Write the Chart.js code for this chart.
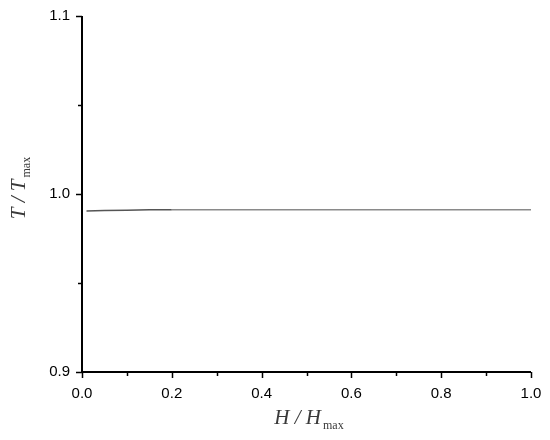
<!DOCTYPE html>
<html>
<head>
<meta charset="utf-8">
<script src="https://cdn.jsdelivr.net/npm/chart.js@4"></script>
<style>
  html,body{margin:0;padding:0;background:#fff;}
  #wrap{width:550px;height:440px;}
</style>
</head>
<body>
<div id="wrap"><canvas id="c" width="550" height="440"></canvas></div>
<script>
// data
const hRatio = [0.01, 0.05, 0.10, 0.15, 0.20, 0.30, 0.40, 0.50, 0.60, 0.70, 0.80, 0.90, 1.00];
const tRatio = [0.9905, 0.9907, 0.9909, 0.9911, 0.9912, 0.9912, 0.9912, 0.9912, 0.9912, 0.9912, 0.9912, 0.9912, 0.9912];
const xTicks = [0.0, 0.2, 0.4, 0.6, 0.8, 1.0];
const yTicks = [0.9, 1.0, 1.1];

const pts = hRatio.map((h,i)=>({x:h, y:tRatio[i]}));
const tickFont = {family:'"Liberation Sans", Arial, sans-serif', size:15};

function isMajor(v, list){ return list.some(t=>Math.abs(t-v)<1e-6); }
function noPad(s){ s.paddingTop = s.paddingBottom = s.paddingLeft = s.paddingRight = 0; }

// outward ticks, long for labelled, short for minor
const tickMarks = {
  id:'tickMarks',
  afterDraw(chart){
    const ctx = chart.ctx, xs = chart.scales.x, ys = chart.scales.y, a = chart.chartArea;
    ctx.save();
    ctx.strokeStyle = '#000'; ctx.lineWidth = 1.5;
    for(let v=0; v<=1.0001; v+=0.1){
      const px = Math.round(xs.getPixelForValue(v))+0.5;
      const len = isMajor(v, xTicks) ? 6 : 4;
      ctx.beginPath(); ctx.moveTo(px, a.bottom); ctx.lineTo(px, a.bottom+len); ctx.stroke();
    }
    for(let v=0.9; v<=1.1001; v+=0.05){
      const py = Math.round(ys.getPixelForValue(v))+0.5;
      const len = isMajor(v, yTicks) ? 6 : 4;
      ctx.beginPath(); ctx.moveTo(a.left, py); ctx.lineTo(a.left-len, py); ctx.stroke();
    }
    // axis lines
    ctx.lineWidth = 2;
    ctx.beginPath(); ctx.moveTo(a.left, a.top); ctx.lineTo(a.left, a.bottom); ctx.lineTo(a.right, a.bottom); ctx.stroke();
    ctx.restore();
  }
};

// axis titles with subscript "max"
function subTitle(ctx, main, sub, cx, cy){
  const mainFont = 'italic 21px "Liberation Serif", "Times New Roman", serif';
  const subFont = '12px "Liberation Serif", "Times New Roman", serif';
  ctx.font = mainFont; const w1 = ctx.measureText(main).width;
  ctx.font = subFont; const w2 = ctx.measureText(sub).width;
  let x = cx - (w1+w2)/2;
  ctx.textBaseline = 'alphabetic'; ctx.textAlign = 'left';
  ctx.fillStyle = '#3a3a3a';
  ctx.font = mainFont; ctx.fillText(main, x, cy);
  ctx.font = subFont; ctx.fillText(sub, x+w1+2, cy+5);
}
const axisTitles = {
  id:'axisTitles',
  afterDraw(chart){
    const ctx = chart.ctx;
    ctx.save();
    subTitle(ctx, 'H / H', 'max', 308, 424);
    ctx.translate(25, 189); ctx.rotate(-Math.PI/2);
    subTitle(ctx, 'T / T', 'max', 0, 0);
    ctx.restore();
  }
};

new Chart(document.getElementById('c'), {
  type:'scatter',
  data:{datasets:[{
    data:pts, showLine:true, pointRadius:0, borderWidth:1.5,
    borderColor:'#8a8a8a',
    segment:{borderColor:c=>c.p0.parsed.x < 0.2 ? '#555' : '#8a8a8a'}
  }]},
  options:{
    responsive:false, animation:false,
    layout:{padding:{top:16, right:19, left:0, bottom:0}},
    plugins:{legend:{display:false}, tooltip:{enabled:false}},
    scales:{
      x:{
        type:'linear', min:0, max:1.0,
        afterBuildTicks:s=>{ s.ticks = xTicks.map(v=>({value:v})); },
        afterFit:s=>{ s.height = 68; noPad(s); },
        border:{display:false},
        grid:{display:false, drawTicks:false},
        ticks:{color:'#000', font:tickFont, padding:13, maxRotation:0,
               callback:v=>v.toFixed(1)}
      },
      y:{
        type:'linear', min:0.9, max:1.1,
        afterBuildTicks:s=>{ s.ticks = yTicks.map(v=>({value:v})); },
        afterFit:s=>{ s.width = 82; noPad(s); },
        border:{display:false},
        grid:{display:false, drawTicks:false},
        ticks:{color:'#000', font:tickFont, padding:12,
               callback:v=>v.toFixed(1)}
      }
    }
  },
  plugins:[tickMarks, axisTitles]
});
</script>
</body>
</html>
